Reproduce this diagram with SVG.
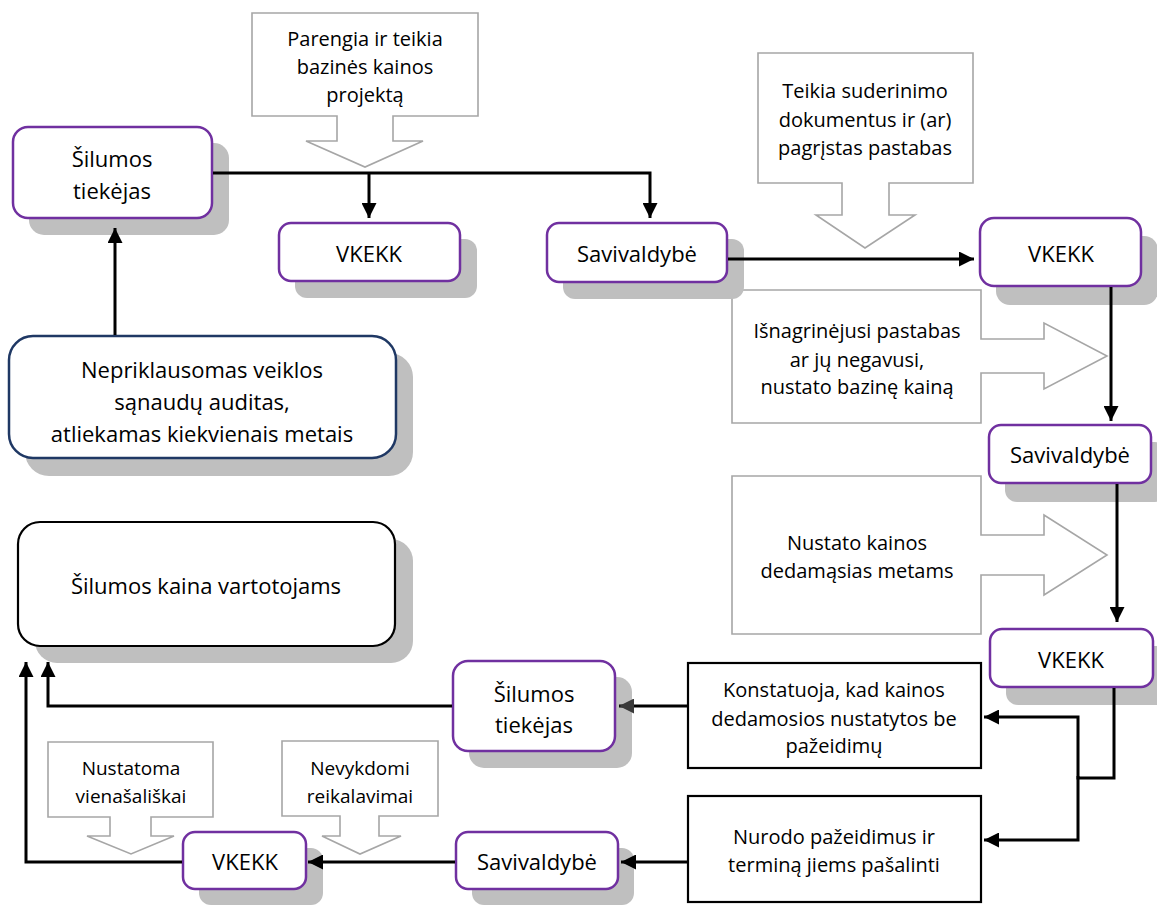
<svg xmlns="http://www.w3.org/2000/svg" width="1157" height="905" viewBox="0 0 1157 905">
<style>
.sh{fill:#bfbfbf}
.pb{fill:#fff;stroke:#7030a0;stroke-width:2.5}
.nb{fill:#fff;stroke:#1f3864;stroke-width:2.5}
.kb{fill:#fff;stroke:#000;stroke-width:2.2}
.co{fill:#fff;stroke:#a6a6a6;stroke-width:1.6}
.c{fill:none;stroke:#000;stroke-width:3}
text{font-family:"Open Sans","Noto Sans","DejaVu Sans",sans-serif;fill:#000;text-anchor:middle}
.t22{font-size:22px}
.t20{font-size:20px}
.t19{font-size:19px}
</style>
<defs>
<marker id="ah" markerUnits="userSpaceOnUse" viewBox="0 0 15 15" markerWidth="15" markerHeight="15" refX="15" refY="7.5" orient="auto"><path d="M0,0 L15,7.5 L0,15 z" fill="#000"/></marker>
<marker id="ahg" markerUnits="userSpaceOnUse" viewBox="0 0 15 15" markerWidth="15" markerHeight="15" refX="15" refY="7.5" orient="auto"><path d="M0,0 L15,7.5 L0,15 z" fill="#3a3a3a"/></marker>
</defs>

<g id="c1"><polygon class="co" points="252,13 478,13 478,116 393,116 393,141 423,141 365,167 306,141 337,141 337,116 252,116"/>
<text class="t20" x="365" y="46">Parengia ir teikia</text><text class="t20" x="365" y="74">bazinės kainos</text><text class="t20" x="365" y="102">projektą</text></g>
<g id="c2"><polygon class="co" points="758,53 973,53 973,183 889,183 889,215 915,215 865,248 816,215 842,215 842,183 758,183"/>
<text class="t20" x="865" y="98">Teikia suderinimo</text><text class="t20" x="865" y="127">dokumentus ir (ar)</text><text class="t20" x="865" y="155">pagrįstas pastabas</text></g>
<g id="c3"><polygon class="co" points="732,290 981,290 981,339 1044,339 1044,323 1107,356 1044,389 1044,373 981,373 981,423 732,423"/>
<text class="t20" x="857" y="338">Išnagrinėjusi pastabas</text><text class="t20" x="857" y="367">ar jų negavusi,</text><text class="t20" x="857" y="394">nustato bazinę kainą</text></g>
<g id="c4"><polygon class="co" points="732,476 981,476 981,535 1044,535 1044,515 1107,555 1044,595 1044,575 981,575 981,634 732,634"/>
<text class="t20" x="857" y="550">Nustato kainos</text><text class="t20" x="857" y="578">dedamąsias metams</text></g>
<g id="c5"><polygon class="co" points="48,742 213,742 213,817 151,817 151,836 174,836 131,854 87,836 110,836 110,817 48,817"/>
<text class="t19" x="131" y="775">Nustatoma</text><text class="t19" x="131" y="803">vienašališkai</text></g>
<g id="c6"><polygon class="co" points="282,741 438,741 438,816 379,816 379,836 401,836 360,854 322,836 340,836 340,816 282,816"/>
<text class="t19" x="360" y="775">Nevykdomi</text><text class="t19" x="360" y="803">reikalavimai</text></g>

<g id="n_st1"><rect class="sh" x="29" y="143" width="200" height="92" rx="15"/><rect class="pb" x="13" y="127" width="199" height="91" rx="15"/>
<text class="t22" x="112" y="167">Šilumos</text><text class="t22" x="112" y="199">tiekėjas</text></g>
<g id="n_vkekk1"><rect class="sh" x="295" y="239" width="182" height="59" rx="12"/><rect class="pb" x="279" y="223" width="181" height="58" rx="12"/>
<text class="t22" x="369" y="262">VKEKK</text></g>
<g id="n_sav1"><rect class="sh" x="563" y="239" width="181" height="60" rx="12"/><rect class="pb" x="547" y="223" width="180" height="59" rx="12"/>
<text class="t22" x="637" y="262">Savivaldybė</text></g>
<g id="n_vkekk2"><rect class="sh" x="996" y="236" width="162" height="69" rx="14"/><rect class="pb" x="980" y="218" width="161" height="68" rx="14"/>
<text class="t22" x="1061" y="262">VKEKK</text></g>
<g id="n_sav2"><rect class="sh" x="1005" y="442" width="162" height="60" rx="12"/><rect class="pb" x="989" y="425" width="162" height="58" rx="12"/>
<text class="t22" x="1070" y="463">Savivaldybė</text></g>
<g id="n_vkekk3"><rect class="sh" x="1006" y="646" width="163" height="59" rx="12"/><rect class="pb" x="990" y="629" width="163" height="58" rx="12"/>
<text class="t22" x="1071" y="668">VKEKK</text></g>
<g id="n_konst"><rect class="kb" x="688" y="663" width="293" height="105"/>
<text class="t20" x="834" y="697">Konstatuoja, kad kainos</text><text class="t20" x="834" y="726">dedamosios nustatytos be</text><text class="t20" x="834" y="753">pažeidimų</text></g>
<g id="n_nurodo"><rect class="kb" x="688" y="796" width="293" height="106"/>
<text class="t20" x="834" y="844">Nurodo pažeidimus ir</text><text class="t20" x="834" y="872">terminą jiems pašalinti</text></g>
<g id="n_st2"><rect class="sh" x="469" y="677" width="163" height="91" rx="15"/><rect class="pb" x="453" y="661" width="162" height="90" rx="15"/>
<text class="t22" x="534" y="702">Šilumos</text><text class="t22" x="534" y="733">tiekėjas</text></g>
<g id="n_sav3"><rect class="sh" x="472" y="848" width="162" height="57" rx="12"/><rect class="pb" x="456" y="832" width="162" height="57" rx="12"/>
<text class="t22" x="537" y="870">Savivaldybė</text></g>
<g id="n_vkekk4"><rect class="sh" x="199" y="848" width="124" height="57" rx="12"/><rect class="pb" x="183" y="832" width="123" height="57" rx="12"/>
<text class="t22" x="245" y="870">VKEKK</text></g>
<g id="n_kaina"><rect class="sh" x="35" y="539" width="378" height="124" rx="22"/><rect class="kb" x="18" y="522" width="377" height="124" rx="22"/>
<text class="t22" x="206" y="594">Šilumos kaina vartotojams</text></g>
<g id="n_nepr"><rect class="sh" x="25" y="353" width="388" height="123" rx="24"/><rect class="nb" x="9" y="336" width="387" height="122" rx="24"/>
<text class="t22" x="202" y="378">Nepriklausomas veiklos</text><text class="t22" x="202" y="410">sąnaudų auditas,</text><text class="t22" x="202" y="442">atliekamas kiekvienais metais</text></g>

<g id="connectors">
<path class="c" d="M213,173 H650 V218" marker-end="url(#ah)"/>
<path class="c" d="M369,173 V218" marker-end="url(#ah)"/>
<path class="c" d="M115,335 V228" marker-end="url(#ah)"/>
<path class="c" d="M728,259 H974" marker-end="url(#ah)"/>
<path class="c" d="M1111,287 V421" marker-end="url(#ah)"/>
<path class="c" d="M1117,484 V622" marker-end="url(#ah)"/>
<path class="c" d="M1114,688 V778 H1078 V717 H984" marker-end="url(#ah)"/>
<path class="c" d="M1078,776 V840 H984" marker-end="url(#ah)"/>
<path class="c" d="M687,706 H619" marker-end="url(#ahg)"/>
<path class="c" d="M687,862 H621" marker-end="url(#ah)"/>
<path class="c" d="M455,862 H308" marker-end="url(#ah)"/>
<path class="c" d="M452,706 H48 V662" marker-end="url(#ah)"/>
<path class="c" d="M182,862 H26 V662" marker-end="url(#ah)"/>
</g>
</svg>
